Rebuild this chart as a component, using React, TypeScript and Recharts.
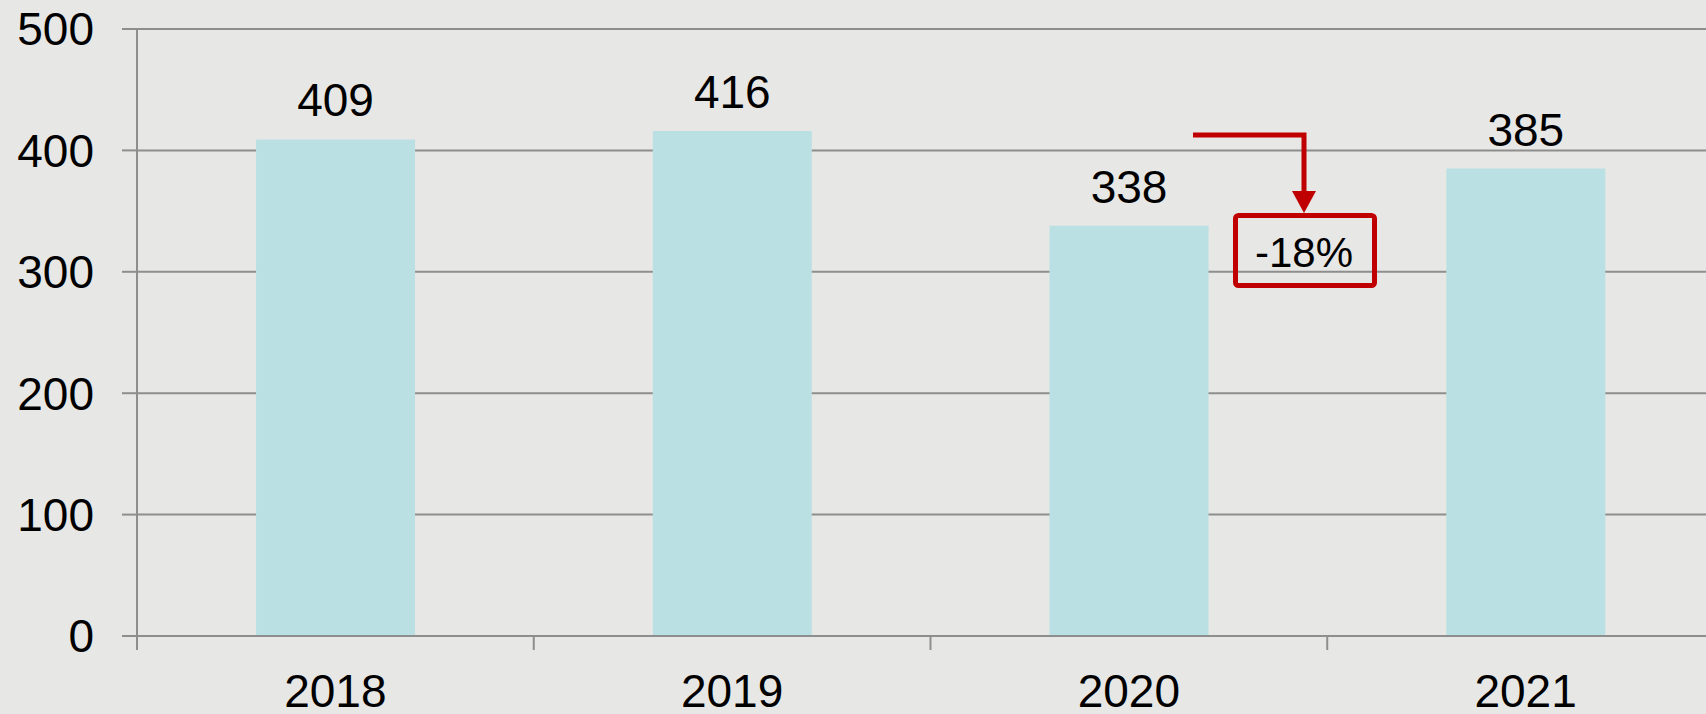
import { BarChart, Bar, XAxis, YAxis, CartesianGrid, LabelList } from 'recharts'

const categories = ['2018', '2019', '2020', '2021']
const values = [409, 416, 338, 385]
const yTicks = [0, 100, 200, 300, 400, 500]

const data = categories.map((year, i) => ({ year, value: values[i] }))

const CHART_W = 1730
const CHART_H = 714
const Y_AXIS_W = 137
const MARGIN_RIGHT = 6
const BAND = (CHART_W - Y_AXIS_W - MARGIN_RIGHT) / categories.length
const X_TICK_SIZE = 14
const X_TICK_MARGIN = 24

const GRID = '#8e8e8e'
const RED = '#C00000'
const FONT = '"Liberation Sans", Arial, sans-serif'

// ticks sit between the categories, so the tick line is drawn half a band to the left
function YearTick(props: any) {
  const { x, y, payload } = props
  const axisY = y - X_TICK_SIZE - X_TICK_MARGIN
  return (
    <g>
      <line x1={x - BAND / 2} x2={x - BAND / 2} y1={axisY} y2={axisY + X_TICK_SIZE} stroke={GRID} strokeWidth={2} />
      <text x={x} y={y} dy="0.71em" textAnchor="middle" fill="#000" fontSize={46} fontFamily={FONT}>
        {payload.value}
      </text>
    </g>
  )
}

export default function App() {
  return (
    <div
      style={{
        position: 'fixed',
        left: 0,
        top: 0,
        width: 1706,
        height: 714,
        overflow: 'hidden',
        background: '#E7E7E5',
        fontFamily: FONT,
      }}
    >
      <BarChart
        width={CHART_W}
        height={CHART_H}
        data={data}
        margin={{ top: 29, right: MARGIN_RIGHT, left: 0, bottom: 0 }}
        barCategoryGap="30%"
      >
        <CartesianGrid vertical={false} stroke={GRID} strokeWidth={2} />
        <XAxis
          dataKey="year"
          height={78}
          tickLine={false}
          tickSize={X_TICK_SIZE}
          tickMargin={X_TICK_MARGIN}
          axisLine={{ stroke: GRID, strokeWidth: 2 }}
          tick={<YearTick />}
          interval={0}
        />
        <YAxis
          width={Y_AXIS_W}
          domain={[0, 500]}
          ticks={yTicks}
          interval={0}
          tickSize={15}
          tickMargin={28}
          tickLine={{ stroke: GRID, strokeWidth: 2 }}
          axisLine={{ stroke: GRID, strokeWidth: 2 }}
          tick={{ fill: '#000', fontSize: 46, fontFamily: FONT }}
        />
        <Bar dataKey="value" fill="#BBE0E3" isAnimationActive={false}>
          <LabelList
            dataKey="value"
            position="top"
            offset={23}
            style={{ fill: '#000', fontSize: 46, fontFamily: FONT }}
          />
        </Bar>
      </BarChart>

      {/* -18% callout */}
      <svg
        width={1706}
        height={714}
        style={{ position: 'absolute', left: 0, top: 0, pointerEvents: 'none' }}
      >
        <polyline points="1193,135 1304,135 1304,193" fill="none" stroke={RED} strokeWidth={5} />
        <polygon points="1292,191 1316,191 1304,213" fill={RED} />
        <rect x={1235.5} y={215.5} width={139} height={70} rx={3} fill="none" stroke={RED} strokeWidth={5} />
        <text x={1304} y={267} textAnchor="middle" fontSize={42} fontFamily={FONT} fill="#000">
          -18%
        </text>
      </svg>
    </div>
  )
}
